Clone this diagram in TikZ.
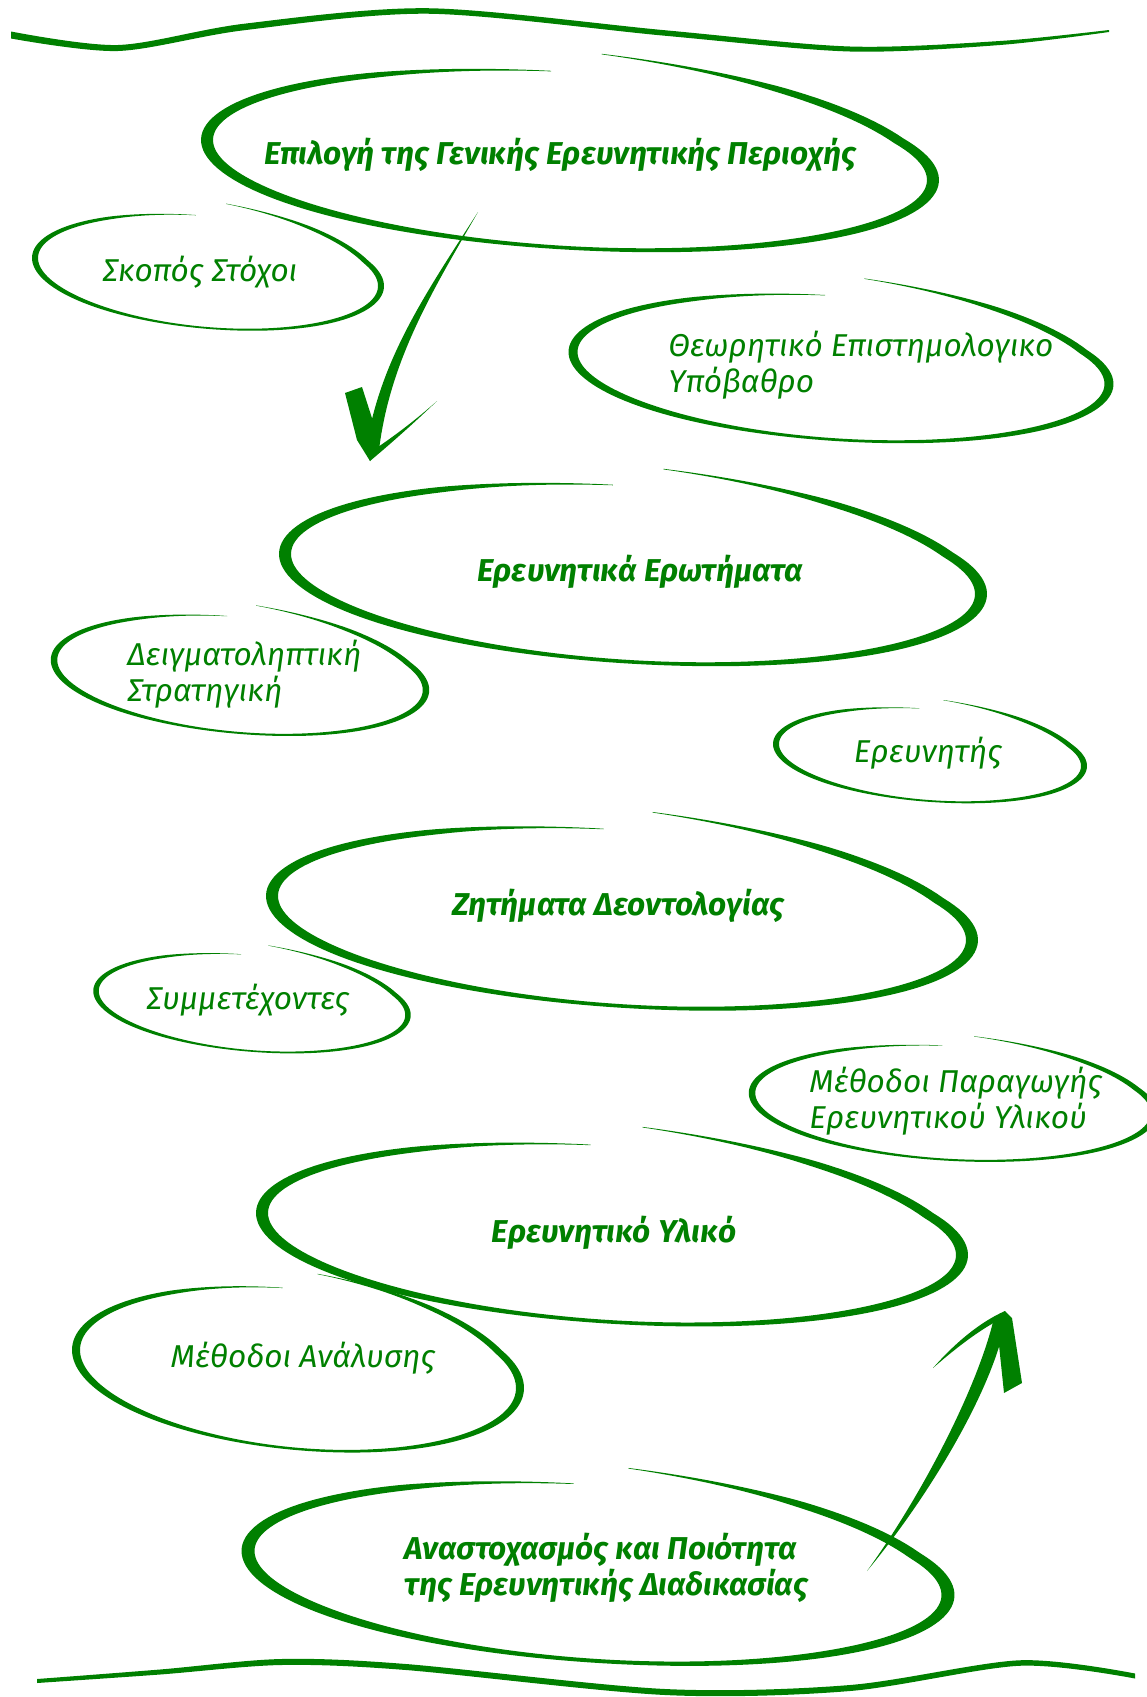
\documentclass[tikz,border=0pt]{standalone}
\usepackage{fontspec}
\setmainfont{Fira Sans}
\definecolor{brushc}{RGB}{0,128,0}
% brush-ellipse helpers (screen coordinates, y downwards)
\newcommand\bW{(\bw*(0.3+0.7*(cos(\t))^2)*min(1,0.15+(\t-(\bta))/35,0.15+((\btb)-\t)/35))}
\newcommand\bX[1]{\bcx+(\brx #1 0.5*\bW)*cos(\t)}
\newcommand\bY[1]{\bcy+(\bry #1 0.5*\bW)*sin(\t)+\bk*cos(\t)-\bL*max(0,1-(\t-(\bta))/60)}
\newcommand\brushell[9]{%
  \def\bcx{#1}\def\bcy{#2}\def\brx{#3}\def\bry{#4}\def\bk{#5}\def\bL{#6}%
  \def\bta{#7}\def\btb{#8}\def\bw{#9}%
  \fill[brushc] plot[variable=\t,domain=#7:#8,samples=160] ({\bX{+}},{\bY{+}})
     -- plot[variable=\t,domain=#8:#7,samples=160] ({\bX{-}},{\bY{-}}) -- cycle;}
\tikzset{
  lbl/.style={text=brushc, inner sep=0pt, font=\itshape\fontsize{15.8}{18}\selectfont},
  lblb/.style={lbl, font=\bfseries\itshape\fontsize{15.8}{18}\selectfont},
}
\begin{document}
\begin{tikzpicture}[x=0.5pt,y=-0.5pt]
\path[use as bounding box, fill=white] (0,0) rectangle (1146,1697);

% top wave
\fill[brushc] plot[smooth] coordinates {(11,31.5) (118,45) (244,23.75) (429,8.25) (665,30.25) (850,46.5) (1000,41) (1109,30)}
  -- plot[smooth] coordinates {(1109,32) (1000,45) (850,51.5) (665,35.75) (429,13.75) (244,30.25) (118,51) (11,38.5)} -- cycle;
% bottom wave
\fill[brushc] plot[smooth] coordinates {(37,1679) (160,1669.5) (281,1659) (406,1664) (665,1689) (850,1685) (1020,1660.25) (1135,1673.5)}
  -- plot[smooth] coordinates {(1135,1678.5) (1020,1665.75) (850,1691) (665,1695) (406,1670) (281,1665) (160,1674.5) (37,1683)} -- cycle;

% labels
\node[lblb] (n1) at (560,155) {Επιλογή της Γενικής Ερευνητικής Περιοχής};
\node[lbl] (n2) at (200,272) {Σκοπός Στόχοι};
\node[lbl, anchor=west, align=left] (n3) at (668,365) {Θεωρητικό Επιστημολογικο\\Υπόβαθρο};
\node[lblb] (n4) at (640,572) {Ερευνητικά Ερωτήματα};
\node[lbl, anchor=west, align=left] (n5) at (127,674) {Δειγματοληπτική\\Στρατηγική};
\node[lbl] (n6) at (928,753) {Ερευνητής};
\node[lblb] (n7) at (618,906) {Ζητήματα Δεοντολογίας};
\node[lbl] (n8) at (248,1000) {Συμμετέχοντες};
\node[lbl, anchor=west, align=left] (n9) at (809,1101) {Μέθοδοι Παραγωγής\\Ερευνητικού Υλικού};
\node[lblb] (n10) at (614,1233) {Ερευνητικό Υλικό};
\node[lbl] (n11) at (303,1358) {Μέθοδοι Ανάλυσης};
\node[lblb, anchor=west, align=left] (n12) at (404,1568) {Αναστοχασμός και Ποιότητα\\της Ερευνητικής Διαδικασίας};

% brush ellipses: cx cy rx ry shear lift t0 t1 width
\brushell{570}{160}{363}{88}{20}{20}{-85}{267}{12}
\brushell{208}{272}{173}{56}{14}{14}{-84}{266}{6}
\brushell{841}{368}{268}{72}{16}{19}{-85}{266.6}{9}
\brushell{633}{574}{348}{88}{20}{19}{-85}{266.7}{12}
\brushell{240}{675}{186}{58}{15}{13}{-85}{266}{6.5}
\brushell{930}{755}{154}{46}{11}{10}{-85}{266}{6}
\brushell{622}{918}{350}{88}{22}{20}{-85}{267}{12}
\brushell{252}{1003}{156}{48}{12}{11}{-84}{266}{5.5}
\brushell{953}{1103}{201}{57}{10}{11}{-84}{267}{6.5}
\brushell{612}{1234}{350}{88}{21}{21}{-85}{266.5}{12}
\brushell{298}{1369}{222}{80}{19}{17}{-85}{266}{8}
\brushell{598}{1573}{350}{88}{22}{19}{-85}{266}{13}

% arrow 1 (down)
\coordinate (a1s) at (478,212);
\coordinate (a1e) at (370,461);
\fill[brushc] (a1s) .. controls (428,290) and (379,360) .. (366,450) -- (a1e)
  -- (379,450) .. controls (390,360) and (433,290) .. (a1s) -- cycle;
\fill[brushc] (345,393) -- (362,387) -- (379,440) -- (a1e) -- (357,440) -- cycle;
\fill[brushc] (437,401) .. controls (415,422) and (395,440) .. (a1e)
  -- (378,447) .. controls (397,434) and (418,418) .. (437,401) -- cycle;

% arrow 2 (up)
\coordinate (a2s) at (867,1571);
\coordinate (a2e) at (1005,1311);
\fill[brushc] (a2s) .. controls (922,1495) and (976,1390) .. (993,1322) -- (a2e)
  -- (1005,1324) .. controls (991,1392) and (930,1495) .. (a2s) -- cycle;
\fill[brushc] (a2e) -- (1012,1318) -- (1022,1383) -- (1004,1393) -- (999,1345) -- cycle;
\fill[brushc] (933,1368) .. controls (955,1343) and (980,1322) .. (a2e)
  -- (1003,1318) .. controls (982,1328) and (957,1347) .. (933,1368) -- cycle;
\end{tikzpicture}
\end{document}
